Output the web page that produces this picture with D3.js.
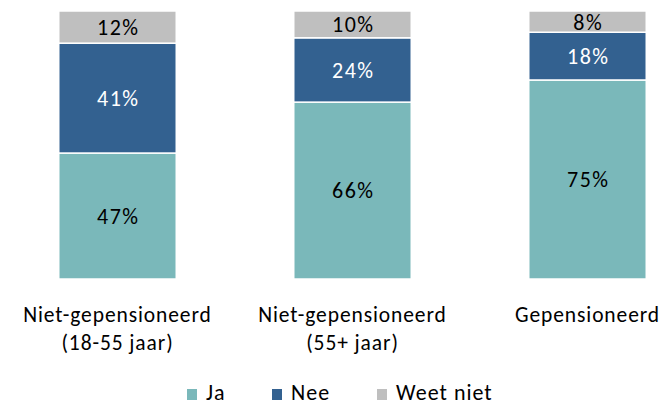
<!DOCTYPE html>
<head>
<meta charset="utf-8">
<style>
body {
  margin: 0;
  background: #fff;
}
text {
  font-family: Carlito, Lato, "Open Sans", sans-serif;
}
</style>
<script src="https://d3js.org/d3.v7.min.js"></script>
</head>
<body>
<script>
  const width = 667;
  const height = 405;

  // data
  const categories = [["Niet-gepensioneerd", "(18-55 jaar)"], ["Niet-gepensioneerd", "(55+ jaar)"], ["Gepensioneerd"]];
  const series = ["Ja", "Nee", "Weet niet"];
  const ja = [47, 66, 75];
  const nee = [41, 24, 18];
  const weetNiet = [12, 10, 8];
  const colors = ["#7AB8BA", "#336190", "#BFBFBF"];
  const labelColors = ["#000", "#fff", "#000"];

  var rows = categories.map(function(c, i) {
    return { key: i, Ja: ja[i], Nee: nee[i], "Weet niet": weetNiet[i] };
  });

  // normalise to 100% stacked
  var stack = d3.stack().keys(series).offset(d3.stackOffsetExpand);
  var layers = stack(rows);

  var svg = d3.select("body").append("svg")
    .attr("width", width)
    .attr("height", height);

  var x = d3.scaleBand()
    .domain(rows.map(function(d) { return d.key; }))
    .range([0, 705])
    .paddingInner(0.5)
    .paddingOuter(0.25);

  var y = d3.scaleLinear()
    .domain([0, 1])
    .range([279, 11]);

  var layer = svg.selectAll("g.layer")
    .data(layers)
    .enter().append("g")
      .attr("class", "layer");

  layer.each(function(L, li) {
    var g = d3.select(this);
    g.selectAll("rect")
      .data(L)
      .enter().append("rect")
        .attr("x", function(d, i) { return x(i); })
        .attr("width", x.bandwidth())
        .attr("y", function(d) { return y(d[1]); })
        .attr("height", function(d) { return y(d[0]) - y(d[1]); })
        .attr("fill", colors[li])
        .attr("stroke", "#fff")
        .attr("stroke-width", 1.5);

    g.selectAll("text")
      .data(L)
      .enter().append("text")
        .attr("x", function(d, i) { return x(i) + x.bandwidth() / 2 + 0.7; })
        .attr("y", function(d) { return (y(d[0]) + y(d[1])) / 2; })
        .attr("dy", "0.36em")
        .attr("text-anchor", "middle")
        .attr("font-size", 22)
        .attr("letter-spacing", "1.4px")
        .attr("fill", labelColors[li])
        .text(function(d) { return d.data[L.key] + "%"; });
  });

  // category labels
  var cat = svg.selectAll("g.cat")
    .data(categories)
    .enter().append("g")
      .attr("class", "cat")
      .attr("transform", function(d, i) { return "translate(" + (x(i) + x.bandwidth() / 2) + ",0)"; });

  cat.selectAll("text")
    .data(function(d) { return d; })
    .enter().append("text")
      .attr("y", function(d, i) { return 322 + i * 28; })
      .attr("text-anchor", "middle")
      .attr("font-size", 21.5)
      .attr("letter-spacing", "0.9px")
      .attr("fill", "#000")
      .text(function(d) { return d; });

  // legend
  const legendX = [187, 272, 377];
  var legend = svg.selectAll("g.legend")
    .data(series)
    .enter().append("g")
      .attr("class", "legend")
      .attr("transform", function(d, i) { return "translate(" + legendX[i] + ",0)"; });

  legend.append("rect")
    .attr("x", 0)
    .attr("y", 389)
    .attr("width", 10)
    .attr("height", 11)
    .attr("fill", function(d, i) { return colors[i]; });

  legend.append("text")
    .attr("x", 19)
    .attr("y", 400)
    .attr("font-size", 22)
    .attr("letter-spacing", "1px")
    .attr("fill", "#000")
    .text(function(d) { return d; });
</script>
</body>
</html>
